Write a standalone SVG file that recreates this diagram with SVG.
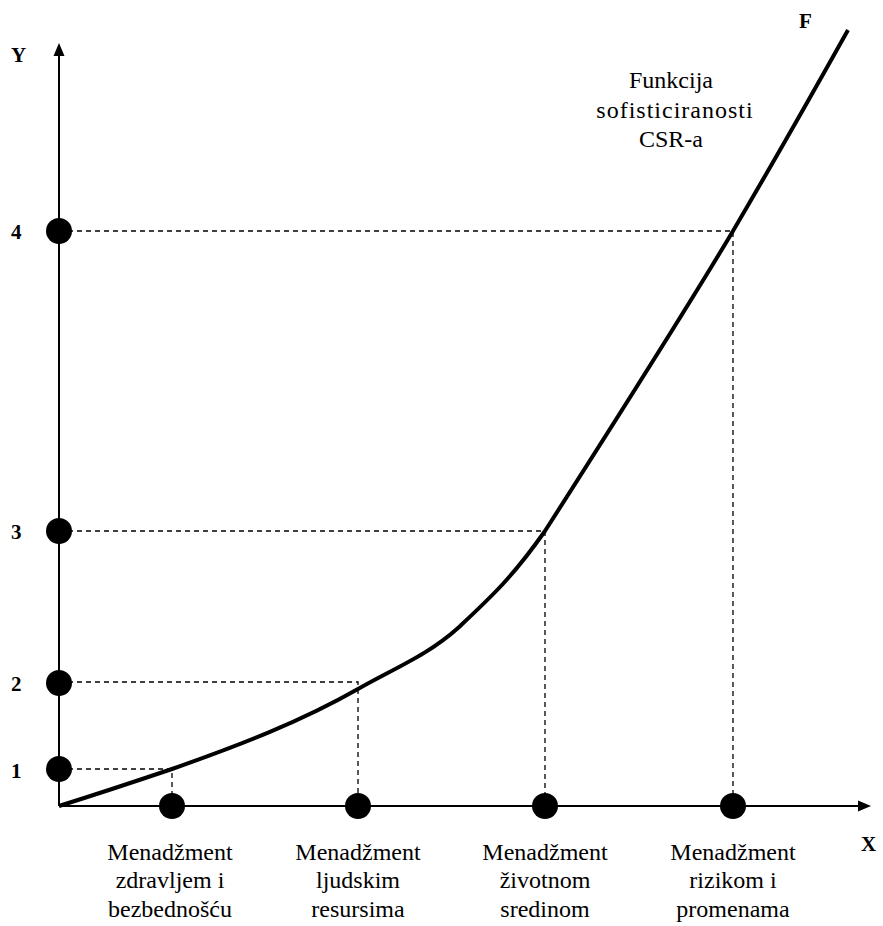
<svg xmlns="http://www.w3.org/2000/svg" width="883" height="926" viewBox="0 0 883 926">
<style>
.ax{stroke:#000;stroke-width:2;fill:none}
.dash{stroke:#000;stroke-width:1.3;stroke-dasharray:5,4;fill:none}
.curve{stroke:#000;stroke-width:4;fill:none;stroke-linecap:butt;stroke-linejoin:round}
.dot{fill:#000}
.num{font-weight:bold;font-size:21px;fill:#000}
.lbl{font-size:24px;fill:#000;text-anchor:middle}
</style>
<rect width="883" height="926" fill="#fff"/>
<g id="connectors">
<line class="ax" x1="59" y1="806" x2="59" y2="54"/>
<polygon points="59,43 53.5,56 64.5,56" fill="#000"/>
<line class="ax" x1="59" y1="806" x2="860" y2="806"/>
<polygon points="871,806 858,800.5 858,811.5" fill="#000"/>
<path class="dash" d="M59,769 H172 V806"/>
<path class="dash" d="M59,682 H358 V806"/>
<path class="dash" d="M59,531 H545 V806"/>
<path class="dash" d="M59,231 H733 V806"/>
<path id="curve" class="curve" d="M59,806 Q110,790 172,769 C240,745 300,722 358,689 C395,668 428,655 458,628 C490,598 512,578 545,531 C600,445 680,320 733,231 C770,168 810,98 848,30"/>
</g>
<g font-family="'Liberation Serif', 'Times New Roman', 'DejaVu Serif', serif">
<g id="axis-y"><text class="num" x="11" y="62" font-size="22">Y</text></g>
<g id="axis-x"><text class="num" x="861" y="851" font-size="22">X</text></g>
<g id="label-F"><text class="num" x="799" y="28">F</text></g>
<g id="y1"><circle class="dot" cx="59" cy="769" r="13"/><text class="num" x="11" y="778">1</text></g>
<g id="y2"><circle class="dot" cx="59" cy="683" r="13"/><text class="num" x="11" y="691">2</text></g>
<g id="y3"><circle class="dot" cx="59" cy="531" r="13"/><text class="num" x="11" y="539">3</text></g>
<g id="y4"><circle class="dot" cx="59" cy="231" r="13"/><text class="num" x="11" y="239">4</text></g>
<g id="x1"><circle class="dot" cx="172" cy="806" r="13"/><text class="lbl" x="170" y="860">Menadžment</text><text class="lbl" x="170" y="888">zdravljem i</text><text class="lbl" x="170" y="917">bezbednošću</text></g>
<g id="x2"><circle class="dot" cx="358" cy="806" r="13"/><text class="lbl" x="358" y="860">Menadžment</text><text class="lbl" x="358" y="888">ljudskim</text><text class="lbl" x="358" y="917">resursima</text></g>
<g id="x3"><circle class="dot" cx="545" cy="806" r="13"/><text class="lbl" x="545" y="860">Menadžment</text><text class="lbl" x="545" y="888">životnom</text><text class="lbl" x="545" y="917">sredinom</text></g>
<g id="x4"><circle class="dot" cx="733" cy="806" r="13"/><text class="lbl" x="733" y="860">Menadžment</text><text class="lbl" x="733" y="888">rizikom i</text><text class="lbl" x="733" y="917">promenama</text></g>
<g id="func-label"><text class="lbl" x="671" y="88">Funkcija</text><text class="lbl" x="675" y="118" letter-spacing="1">sofisticiranosti</text><text class="lbl" x="671" y="147">CSR-a</text></g>
</g>
</svg>
